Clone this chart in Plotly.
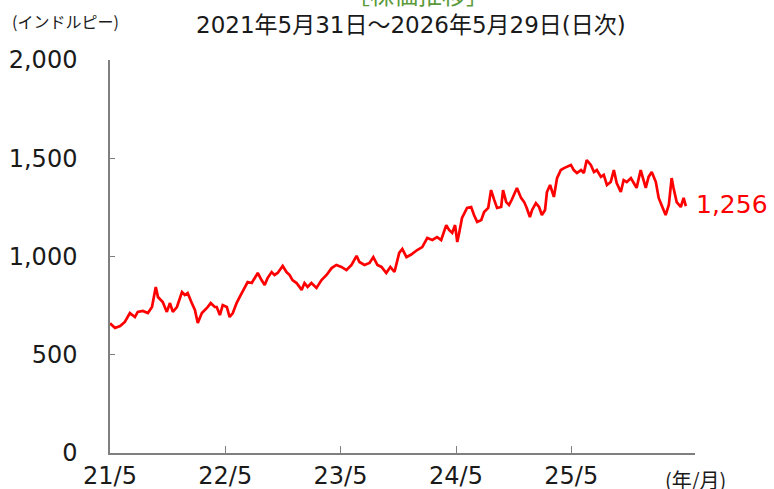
import plotly.graph_objects as go

dates = [
    "2021-05-31", "2021-06-16", "2021-07-02", "2021-07-17", "2021-08-02", "2021-08-18", "2021-08-27",
    "2021-09-12", "2021-09-28", "2021-10-11", "2021-10-23", "2021-10-30", "2021-11-14", "2021-11-27",
    "2021-12-07", "2021-12-16", "2021-12-29", "2022-01-14", "2022-01-23", "2022-02-01", "2022-02-14",
    "2022-02-24", "2022-03-05", "2022-03-18", "2022-04-03", "2022-04-15", "2022-04-28", "2022-05-04",
    "2022-05-14", "2022-05-23", "2022-06-05", "2022-06-14", "2022-06-24", "2022-07-06", "2022-07-16",
    "2022-08-01", "2022-08-10", "2022-08-23", "2022-09-01", "2022-09-11", "2022-09-23", "2022-10-03",
    "2022-10-12", "2022-10-25", "2022-11-03", "2022-11-13", "2022-11-29", "2022-12-11", "2022-12-21",
    "2022-12-30", "2023-01-12", "2023-01-28", "2023-02-06", "2023-02-16", "2023-02-28", "2023-03-16",
    "2023-04-01", "2023-04-17", "2023-05-03", "2023-05-18", "2023-06-03", "2023-06-19", "2023-07-05",
    "2023-07-21", "2023-07-30", "2023-08-15", "2023-08-31", "2023-09-12", "2023-09-25", "2023-10-08",
    "2023-10-23", "2023-11-05", "2023-11-18", "2023-12-03", "2023-12-13", "2023-12-26", "2024-01-10",
    "2024-01-20", "2024-01-29", "2024-02-14", "2024-03-01", "2024-03-17", "2024-04-01", "2024-04-14",
    "2024-04-30", "2024-05-09", "2024-05-19", "2024-05-28", "2024-06-04", "2024-06-10", "2024-06-19",
    "2024-07-05", "2024-07-18", "2024-07-27", "2024-08-06", "2024-08-19", "2024-08-28", "2024-09-10",
    "2024-09-19", "2024-09-29", "2024-10-08", "2024-10-21", "2024-10-27", "2024-11-06", "2024-11-15",
    "2024-11-24", "2024-12-01", "2024-12-10", "2024-12-23", "2025-01-02", "2025-01-10", "2025-01-20",
    "2025-01-27", "2025-02-08", "2025-02-18", "2025-02-27", "2025-03-09", "2025-03-15", "2025-03-25",
    "2025-03-31", "2025-04-06", "2025-04-16", "2025-04-28", "2025-05-08", "2025-05-17", "2025-05-30",
    "2025-06-08", "2025-06-18", "2025-07-01", "2025-07-10", "2025-07-19", "2025-08-01", "2025-08-11",
    "2025-08-20", "2025-09-02", "2025-09-11", "2025-09-21", "2025-10-03", "2025-10-13", "2025-10-22",
    "2025-11-04", "2025-11-13", "2025-11-23", "2025-12-06", "2025-12-15", "2025-12-24", "2026-01-06",
    "2026-01-12", "2026-01-22", "2026-01-31", "2026-02-10", "2026-02-23", "2026-03-04", "2026-03-13",
    "2026-03-26", "2026-04-05", "2026-04-14", "2026-04-20", "2026-04-30", "2026-05-13", "2026-05-22",
    "2026-05-29",
]

prices = [
    660, 636, 646, 667, 712, 692, 718,
    723, 712, 743, 845, 794, 768, 718,
    763, 718, 743, 819, 804, 814, 763,
    728, 662, 712, 738, 763, 743, 743,
    702, 753, 743, 692, 712, 763, 794,
    840, 870, 865, 890, 916, 880, 855,
    890, 921, 906, 916, 952, 921, 906,
    880, 865, 830, 865, 845, 865, 840,
    880, 906, 941, 957, 947, 931, 957,
    1003, 972, 957, 967, 997, 957, 947,
    916, 947, 921, 1018, 1038, 997, 1010,
    1023, 1033, 1048, 1094, 1084, 1099, 1084,
    1160, 1135, 1120, 1160, 1074, 1120, 1196,
    1247, 1252, 1211, 1176, 1186, 1226, 1247,
    1338, 1288, 1247, 1252, 1338, 1277, 1262,
    1290, 1313, 1349, 1298, 1277, 1247, 1201,
    1237, 1272, 1252, 1211, 1237, 1328, 1364,
    1328, 1303, 1399, 1440, 1450, 1455, 1466,
    1440, 1425, 1440, 1425, 1491, 1466, 1430,
    1440, 1405, 1415, 1364, 1379, 1440, 1374,
    1328, 1389, 1379, 1399, 1374, 1349, 1440,
    1405, 1349, 1405, 1430, 1379, 1298, 1262,
    1211, 1262, 1399, 1349, 1277, 1252, 1298,
    1256,
]

tick_dates = ["2021-05-31", "2022-05-31", "2023-05-31", "2024-05-31", "2025-05-31"]
tick_labels = ["21/5", "22/5", "23/5", "24/5", "25/5"]
y_ticks = [0, 500, 1000, 1500, 2000]
y_tick_labels = ["0", "500", "1,000", "1,500", "2,000"]

title_text = "［株価推移］"
subtitle_text = "2021年5月31日～2026年5月29日(日次)"
unit_text = "(インドルピー)"
xunit_text = "(年/月)"
last_label = "1,256"

CJK = "Noto Sans CJK JP"
MIX = "DejaVu Sans, Noto Sans CJK JP"
TXT = "#1a1a1a"
AXIS = "#7f7f7f"

fig = go.Figure()
fig.add_trace(go.Scatter(
    x=dates, y=prices, mode="lines",
    line=dict(color="#ff0000", width=2.7),
    hoverinfo="skip", showlegend=False,
))

fig.update_layout(
    width=774, height=489,
    margin=dict(l=110, r=79, t=60, b=36),
    paper_bgcolor="white", plot_bgcolor="white",
    font=dict(family=MIX, color=TXT),
    xaxis=dict(
        type="date", range=["2021-05-31", "2026-06-27"],
        tickvals=tick_dates, ticktext=tick_labels,
        ticks="inside", ticklen=7, tickcolor=AXIS, tickwidth=1,
        showline=True, linecolor=AXIS, linewidth=2,
        showgrid=False, zeroline=False, automargin=False,
        tickfont=dict(size=24, color=TXT, family=MIX),
    ),
    yaxis=dict(
        range=[0, 2000], tickvals=y_ticks, ticktext=y_tick_labels,
        ticks="inside", ticklen=5, tickcolor=AXIS, tickwidth=1,
        showline=True, linecolor=AXIS, linewidth=1.5,
        showgrid=False, zeroline=False, automargin=False,
        tickfont=dict(size=24, color=TXT, family=MIX),
        ticklabelstandoff=26,
    ),
)

fig.add_annotation(x=dates[-1], y=prices[-1], xref="x", yref="y",
                   text=last_label, showarrow=False, xanchor="left", yanchor="middle",
                   xshift=8, yshift=2, font=dict(size=25, color="#ff0000", family=MIX))
fig.add_annotation(x=0.5265, y=1, xref="paper", yref="paper", text=title_text,
                   showarrow=False, xanchor="center", yanchor="middle", yshift=67,
                   font=dict(size=24, color="#5a9a3a", family=CJK))
fig.add_annotation(x=0.5145, y=1, xref="paper", yref="paper", text=subtitle_text,
                   showarrow=False, xanchor="center", yanchor="middle", yshift=35,
                   font=dict(size=23, color=TXT, family=MIX))
fig.add_annotation(x=-0.171, y=1, xref="paper", yref="paper", text=unit_text,
                   showarrow=False, xanchor="left", yanchor="middle", yshift=39,
                   font=dict(size=16, color=TXT, family=CJK))
fig.add_annotation(x=1, y=0, xref="paper", yref="paper", text=xunit_text,
                   showarrow=False, xanchor="center", yanchor="middle", yshift=-26,
                   font=dict(size=20, color=TXT, family=CJK))

fig.write_html("out.html", config={"displayModeBar": False},
               post_script="document.body.style.margin='0';")
